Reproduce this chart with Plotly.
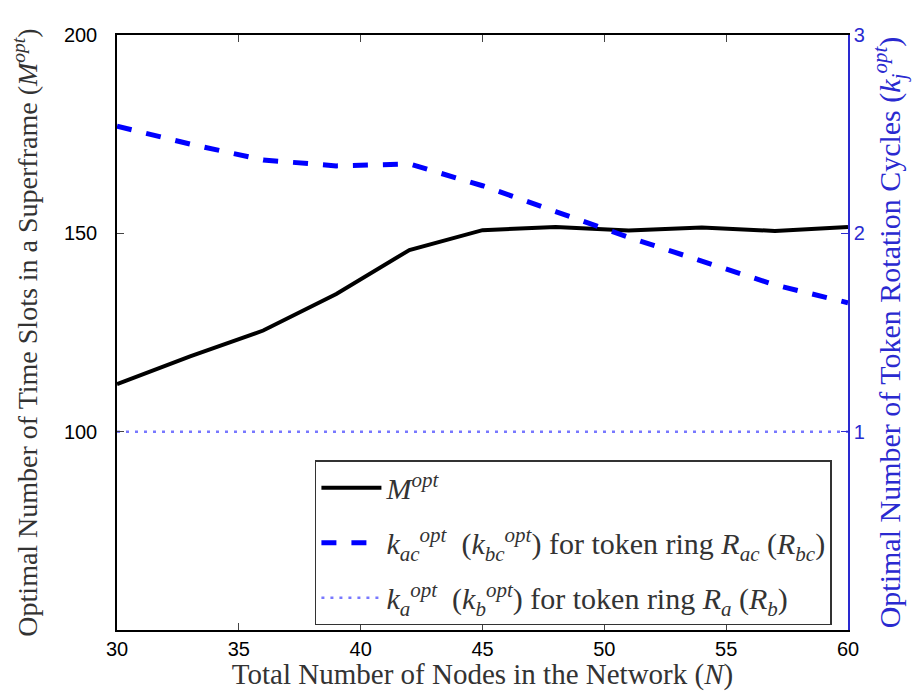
import plotly.graph_objects as go

nodes = [30, 33, 36, 39, 42, 45, 48, 51, 54, 57, 60]
m_opt = [112, 119, 125.5, 134.7, 145.8, 150.8, 151.6, 150.7, 151.5, 150.6, 151.6]
k_ac_opt = [2.54, 2.45, 2.37, 2.34, 2.35, 2.24, 2.11, 1.98, 1.86, 1.74, 1.65]
k_a_opt = [1, 1, 1, 1, 1, 1, 1, 1, 1, 1, 1]

x_ticks = [30, 35, 40, 45, 50, 55, 60]
left_ticks = [100, 150, 200]
right_ticks = [1, 2, 3]

serif = "Liberation Serif, Times New Roman, serif"
sans = "Liberation Sans, Arial, sans-serif"
blue_axis = "#2a2ad0"

fig = go.Figure()
fig.add_trace(go.Scatter(
    x=nodes, y=m_opt, mode="lines",
    line=dict(color="black", width=4),
    name="<i>M</i><sup><i>opt</i></sup>", legendgroup="a"))
fig.add_trace(go.Scatter(
    x=nodes, y=k_ac_opt, mode="lines", yaxis="y2",
    line=dict(color="#0000ff", width=5, dash="dash"),
    name="<i>k</i><sub><i>ac</i></sub><sup><i>opt</i></sup>  (<i>k</i><sub><i>bc</i></sub><sup><i>opt</i></sup>) for token ring <i>R</i><sub><i>ac</i></sub> (<i>R</i><sub><i>bc</i></sub>)",
    legendgroup="b"))
fig.add_trace(go.Scatter(
    x=nodes, y=k_a_opt, mode="lines", yaxis="y2",
    line=dict(color="#7878ff", width=2.5, dash="3px,6px"),
    name="<i>k</i><sub><i>a</i></sub><sup><i>opt</i></sup>  (<i>k</i><sub><i>b</i></sub><sup><i>opt</i></sup>) for token ring <i>R</i><sub><i>a</i></sub> (<i>R</i><sub><i>b</i></sub>)",
    legendgroup="c"))

fig.update_layout(
    width=912, height=683,
    margin=dict(l=109, r=72, t=27, b=61, autoexpand=False),
    plot_bgcolor="white", paper_bgcolor="white",
    showlegend=True,
    xaxis=dict(
        range=[30, 60], tickvals=x_ticks, ticks="inside", ticklen=7,
        showline=True, linecolor="black", linewidth=1.5, mirror="ticks",
        showgrid=False, zeroline=False, automargin=False,
        tickfont=dict(family=sans, size=20, color="black"),
        title=dict(text="Total Number of Nodes in the Network (<i>N</i>)",
                   font=dict(family=serif, size=29, color="#333"), standoff=0)),
    yaxis=dict(
        range=[50, 200], tickvals=left_ticks, ticks="inside", ticklen=7,
        showline=True, linecolor="black", linewidth=1.5,
        showgrid=False, zeroline=False, automargin=False,
        ticklabelstandoff=14,
        tickfont=dict(family=sans, size=20, color="black"),
        title=dict(text="Optimal Number of Time Slots in a Superframe (<i>M</i><sup><i>opt</i></sup>)",
                   font=dict(family=serif, size=28, color="#333"), standoff=22)),
    yaxis2=dict(
        range=[0, 3], tickvals=right_ticks, ticks="inside", ticklen=7,
        overlaying="y", side="right",
        showline=True, linecolor=blue_axis, linewidth=1.5, tickcolor=blue_axis,
        showgrid=False, zeroline=False, automargin=False,
        tickfont=dict(family=sans, size=20, color=blue_axis),
        title=dict(text="Optimal Number of Token Rotation Cycles (<i>k</i><sub><i>j</i></sub><sup><i>opt</i></sup>)",
                   font=dict(family=serif, size=30, color=blue_axis), standoff=15)),
    legend=dict(
        x=0.978, y=0.008, xanchor="right", yanchor="bottom",
        bgcolor="white", bordercolor="#333", borderwidth=1.5,
        font=dict(family=serif, size=30, color="#333"),
        tracegroupgap=13, itemwidth=60),
)

fig.write_html("out.html")
